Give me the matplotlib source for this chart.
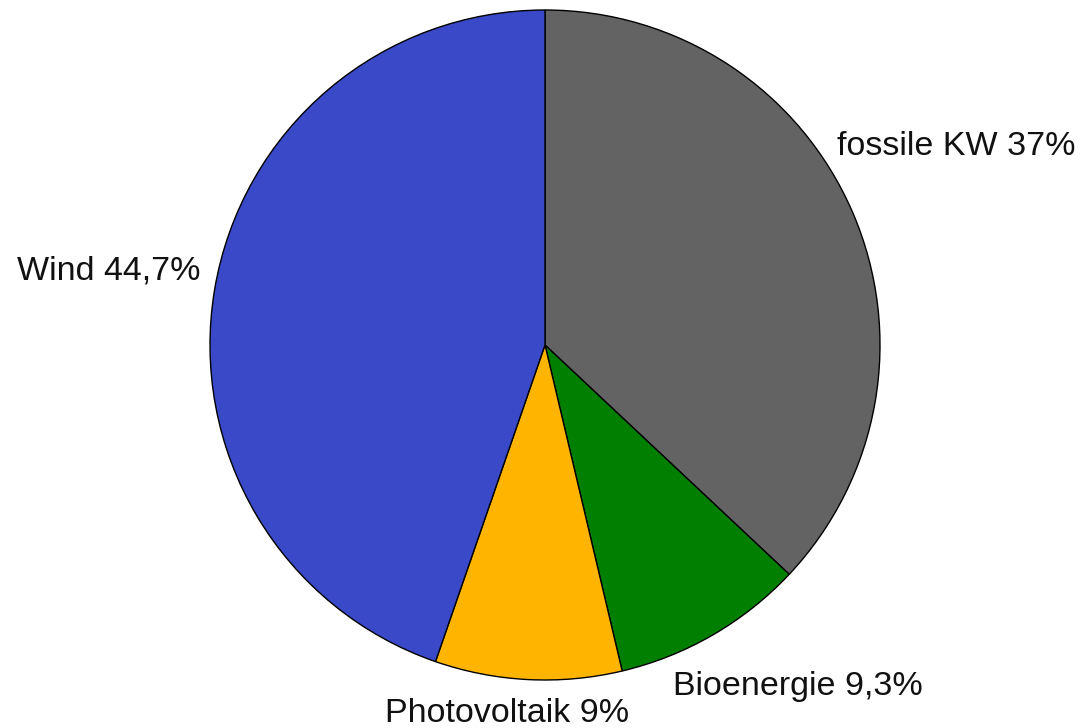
import matplotlib
matplotlib.use("Agg")
import matplotlib.pyplot as plt

labels = ["fossile KW 37%", "Bioenergie 9,3%", "Photovoltaik 9%", "Wind 44,7%"]
values = [37.0, 9.3, 9.0, 44.7]
colors = ["#636363", "#007f00", "#ffb400", "#3949c8"]
# label anchor (pixel, left/baseline)
label_pos = [(837, 155), (673, 695), (385, 722), (17, 279)]

W, H = 1086, 728
fig = plt.figure(figsize=(W / 100, H / 100), dpi=100)
ax = fig.add_axes([0, 0, 1, 1])

# y axis is inverted (pixel coordinates), so counterclockwise in data = clockwise on screen
wedges, _ = ax.pie(values, colors=colors, startangle=-90, counterclock=True,
                   center=(545, 345), radius=335, frame=True,
                   wedgeprops=dict(edgecolor="black", linewidth=1.0))
ax.set_xlim(0, W)
ax.set_ylim(H, 0)
ax.axis("off")
ax.set_aspect("auto")

for lab, (x, y) in zip(labels, label_pos):
    ax.text(x, y, lab, ha="left", va="baseline", fontsize=24.5,
            family="Liberation Sans", color="#111111")

fig.savefig("out.png", dpi=100)
